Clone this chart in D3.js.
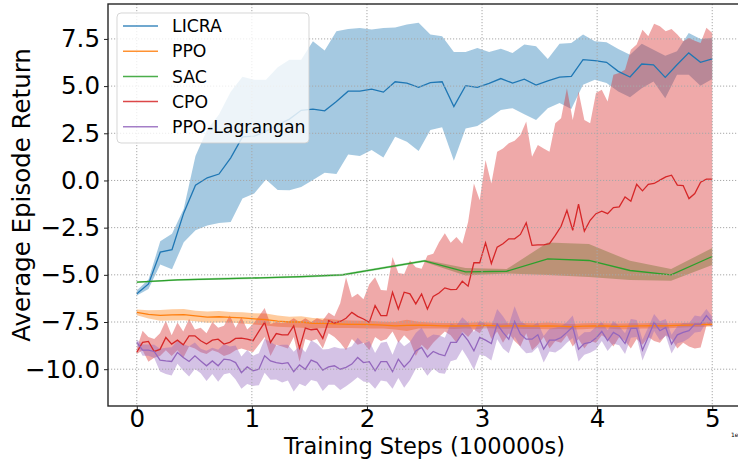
<!DOCTYPE html>
<html>
<head>
<meta charset="utf-8">
<script src="https://cdn.jsdelivr.net/npm/d3@7"></script>
<style>
  body { margin: 0; background: #fff; }
  text { font-family: "DejaVu Sans", sans-serif; fill: #000; }
</style>
</head>
<body>
<div id="chart"></div>
<script>
// ---- data ----
var seriesNames = ["LICRA", "PPO", "SAC", "CPO", "PPO-Lagrangan"];
var seriesColors = ["#1f77b4", "#ff7f0e", "#2ca02c", "#d62728", "#9467bd"];
var xTicks = [0, 1, 2, 3, 4, 5];
var yTicks = [-10, -7.5, -5, -2.5, 0, 2.5, 5, 7.5];

// LICRA: 50 evaluations
var licraMean = [-6.0, -5.48, -3.80, -3.67, -1.72, -0.25, 0.14, 0.34, 1.2, 2.31,
    2.35, 2.6, 2.95, 3.25, 3.72, 3.78, 3.69, 4.18, 4.73, 4.73,
    4.84, 4.68, 5.23, 5.16, 4.93, 5.18, 5.23, 3.92, 5.02, 4.93,
    5.14, 5.40, 5.16, 5.37, 5.05, 5.28, 5.48, 5.51, 6.40, 6.35,
    6.26, 5.78, 5.48, 6.17, 6.13, 5.46, 6.13, 6.76, 6.26, 6.44];
var licraUpper = [-5.83, -5.25, -3.22, -2.82, -1.5, 1.3, 2.7, 3.5, 4.7, 5.5,
    5.34, 5.34, 6.0, 6.4, 6.4, 7.37, 6.88, 7.90, 8.03, 8.08,
    8.0, 8.08, 8.1, 8.26, 8.35, 7.73, 7.64, 6.81, 6.81, 7.02,
    6.81, 6.98, 6.75, 7.2, 7.11, 6.44, 7.25, 7.29, 7.73, 7.37,
    7.32, 6.97, 6.66, 7.25, 6.93, 6.61, 6.84, 7.82, 7.50, 7.55];
var licraLower = [-6.1, -5.75, -4.45, -4.7, -3.27, -2.64, -2.38, -2.25, -2.2, -0.96,
    -0.69, 0.05, -0.5, -0.52, -0.34, 0.02, 0.41, 0.34, 1.38, 1.29,
    1.61, 1.22, 2.32, 2.05, 1.56, 2.68, 2.82, 1.04, 2.76, 2.89,
    3.30, 3.74, 3.83, 3.51, 3.21, 3.83, 4.10, 3.78, 5.07, 5.34,
    5.16, 4.71, 4.41, 4.89, 5.25, 4.36, 5.60, 5.60, 5.02, 5.37];

// PPO: 50 evaluations, mean and half band
var ppoMean = [-6.99, -7.1, -7.15, -7.12, -7.11, -7.18, -7.24, -7.22, -7.25, -7.28,
    -7.33, -7.37, -7.45, -7.5, -7.5, -7.57, -7.57, -7.6, -7.62, -7.63,
    -7.64, -7.66, -7.7, -7.68, -7.66, -7.68, -7.7, -7.71, -7.7, -7.69,
    -7.68, -7.72, -7.7, -7.71, -7.72, -7.7, -7.72, -7.75, -7.72, -7.7,
    -7.71, -7.73, -7.72, -7.7, -7.69, -7.7, -7.68, -7.66, -7.64, -7.62];
var ppoBand = [0.15, 0.22, 0.28, 0.3, 0.3, 0.28, 0.3, 0.3, 0.28, 0.3,
    0.3, 0.32, 0.3, 0.28, 0.3, 0.28, 0.25, 0.22, 0.2, 0.2,
    0.2, 0.18, 0.2, 0.3, 0.18, 0.16, 0.15, 0.16, 0.15, 0.18,
    0.15, 0.14, 0.15, 0.16, 0.15, 0.18, 0.15, 0.14, 0.16, 0.15,
    0.14, 0.15, 0.16, 0.14, 0.15, 0.14, 0.13, 0.12, 0.12, 0.12];

// SAC: 15 evaluations
var sacMean = [-5.39, -5.27, -5.21, -5.16, -5.1, -5.0, -4.63, -4.26, -4.84, -4.81,
    -4.15, -4.24, -4.77, -5.0, -4.03];
var sacBand = [0.04, 0.05, 0.05, 0.05, 0.05, 0.06, 0.06, 0.06, 0.2, 0.12,
    0.86, 0.87, 0.51, 0.31, 0.45];

// CPO: 100 evaluations
var cpoMean = [-9.1, -8.58, -8.53, -9.06, -8.95, -8.32, -8.67, -8.46, -8.71, -8.23,
    -8.23, -8.49, -8.67, -8.46, -8.41, -8.67, -8.58, -8.37, -8.35, -8.41,
    -8.49, -8.0, -7.52, -8.58, -8.11, -8.18, -8.18, -7.70, -8.88, -7.82,
    -7.91, -7.87, -8.37, -7.43, -7.56, -7.47, -7.3, -6.99, -7.2, -7.34,
    -7.52, -6.63, -7.16, -7.16, -5.92, -6.81, -5.92, -6.01, -6.54, -6.01,
    -6.81, -6.14, -5.96, -5.69, -5.78, -5.77, -5.34, -5.6, -4.36, -4.36,
    -3.30, -4.40, -3.53, -3.35, -3.09, -3.09, -2.86, -2.24, -3.44, -3.41,
    -3.41, -3.35, -2.91, -2.43, -1.58, -2.64, -1.26, -2.68, -2.11, -1.76,
    -1.63, -1.76, -1.44, -1.40, -0.87, -1.10, -0.20, -0.55, -0.20, -0.16,
    0.02, 0.19, 0.28, -0.25, -0.27, -0.96, -0.69, -0.09, 0.07, 0.07];
var cpoUpper = [-8.9, -7.96, -8.3, -8.4, -8.1, -7.43, -8.2, -7.52, -8.0, -7.34,
    -7.9, -7.8, -8.1, -7.5, -7.8, -7.7, -7.16, -7.8, -7.25, -7.9,
    -7.6, -7.2, -6.76, -7.6, -7.5, -7.55, -7.5, -7.3, -7.5, -7.3,
    -7.5, -7.3, -7.4, -7.0, -7.2, -6.5, -5.13, -6.2, -6.0, -6.3,
    -5.5, -5.13, -5.8, -5.83, -4.06, -4.9, -4.95, -4.24, -4.6, -4.68,
    -3.97, -3.88, -3.27, -2.8, -3.3, -3.0, -3.35, -2.2, -0.16, -1.05,
    1.08, -0.16, 1.52, 1.70, 1.97, 2.1, 2.41, 3.12, 1.26, 1.88,
    1.7, 1.52, 3.03, 3.3, 4.89, 3.21, 4.71, 3.21, 3.03, 4.63,
    4.80, 4.18, 5.60, 5.69, 5.87, 6.93, 7.2, 7.99, 7.64, 8.3,
    8.17, 7.90, 8.03, 7.73, 7.37, 7.55, 7.4, 7.29, 8.09, 7.82];
var cpoLower = [-9.2, -9.0, -9.6, -9.4, -9.3, -9.0, -9.3, -9.0, -9.4, -8.8,
    -8.9, -9.1, -9.2, -9.0, -9.1, -9.3, -9.2, -9.0, -8.9, -9.0,
    -9.1, -8.7, -8.3, -9.3, -8.7, -8.8, -8.9, -8.3, -9.6, -8.4,
    -8.5, -8.4, -8.9, -8.1, -8.3, -8.6, -9.0, -8.4, -8.7, -8.6,
    -9.0, -8.3, -8.5, -8.4, -8.0, -8.6, -8.2, -8.5, -9.3, -8.7,
    -9.0, -8.6, -8.3, -8.0, -8.2, -8.6, -8.0, -8.3, -7.9, -8.1,
    -7.6, -8.4, -8.0, -8.6, -8.1, -8.5, -8.8, -8.1, -9.0, -8.7,
    -8.3, -8.9, -8.5, -8.6, -8.2, -8.8, -8.4, -8.9, -8.5, -8.6,
    -8.2, -8.4, -8.8, -8.3, -8.5, -8.9, -8.4, -8.7, -8.3, -8.5,
    -8.6, -8.2, -8.4, -8.9, -8.6, -8.8, -8.9, -8.85, -7.7, -7.7];

// PPO-Lagrangan: 100 evaluations, mean and half band
var lagMean = [-8.58, -8.99, -8.99, -9.06, -9.52, -9.56, -9.59, -9.11, -9.38, -9.59,
    -9.29, -9.56, -9.82, -9.56, -9.82, -9.47, -9.50, -9.65, -10.18, -9.88,
    -10.09, -10.0, -9.29, -9.56, -9.65, -9.70, -9.65, -10.13, -9.77, -10.0,
    -9.52, -9.65, -10.05, -9.88, -9.82, -10.0, -9.9, -9.73, -9.38, -9.65,
    -9.6, -10.09, -9.6, -9.6, -10.13, -9.47, -9.88, -9.56, -9.03, -8.85,
    -9.35, -9.06, -9.20, -9.29, -8.58, -8.58, -8.10, -8.49, -9.03, -8.32,
    -8.46, -8.64, -7.61, -8.05, -8.41, -7.47, -8.14, -8.41, -8.41, -8.18,
    -8.94, -8.46, -8.46, -8.32, -8.05, -7.75, -8.94, -8.64, -8.58, -8.35,
    -8.0, -8.49, -8.05, -8.23, -8.64, -7.84, -7.84, -8.99, -8.28, -7.52,
    -7.96, -7.79, -8.67, -8.18, -8.05, -7.96, -7.61, -7.61, -7.16, -7.52];
var lagBand = [0.15, 0.3, 0.3, 0.35, 0.6, 0.7, 0.75, 0.6, 0.7, 0.8,
    0.7, 0.65, 0.8, 0.7, 0.85, 0.8, 0.7, 0.9, 0.85, 0.9,
    0.8, 0.85, 0.9, 1.0, 0.9, 1.0, 0.95, 1.05, 1.0, 0.9,
    1.05, 1.0, 1.1, 0.95, 1.0, 1.1, 1.0, 0.95, 1.05, 1.0,
    1.1, 0.95, 1.0, 1.05, 0.9, 1.0, 1.1, 1.0, 0.95, 1.05,
    1.0, 0.9, 1.0, 0.95, 1.0, 0.9, 0.85, 0.95, 1.0, 0.9,
    0.85, 0.9, 0.8, 0.85, 0.75, 0.8, 0.7, 0.75, 0.7, 0.65,
    0.7, 0.6, 0.65, 0.6, 0.55, 0.6, 0.65, 0.6, 0.55, 0.6,
    0.5, 0.55, 0.6, 0.5, 0.55, 0.5, 0.45, 0.55, 0.5, 0.45,
    0.5, 0.45, 0.5, 0.45, 0.5, 0.4, 0.45, 0.4, 0.35, 0.3];

// ---- layout ----
var width = 738,
    height = 459,
    plotLeft = 108,
    plotTop = 4,
    plotBottom = 406,
    plotRight = 741;

var x = d3.scaleLinear().domain([-0.25, 5.25]).range([plotLeft, plotRight]);
var y = d3.scaleLinear().domain([-11.95, 9.35]).range([plotBottom, plotTop]);

// evenly spaced training steps (in units of 1e5) for a run with n evaluations
function steps(n) {
    return d3.range(n).map(function(i) { return 5 * i / (n - 1); });
}

function bandFromSpread(mean, spread) {
    return mean.map(function(m, i) { return {lo: m - spread[i], hi: m + spread[i]}; });
}
function bandFromBounds(lower, upper) {
    return lower.map(function(l, i) { return {lo: l, hi: upper[i]}; });
}

var series = [
    {mean: licraMean, band: bandFromBounds(licraLower, licraUpper)},
    {mean: ppoMean, band: bandFromSpread(ppoMean, ppoBand)},
    {mean: sacMean, band: bandFromSpread(sacMean, sacBand)},
    {mean: cpoMean, band: bandFromBounds(cpoLower, cpoUpper)},
    {mean: lagMean, band: bandFromSpread(lagMean, lagBand)}
];
series.forEach(function(s, k) {
    s.name = seriesNames[k];
    s.color = seriesColors[k];
    s.x = steps(s.mean.length);
});

var svg = d3.select("#chart").append("svg")
    .attr("width", width)
    .attr("height", height);

svg.append("defs").append("clipPath")
    .attr("id", "plotClip")
    .append("rect")
    .attr("x", plotLeft)
    .attr("y", plotTop)
    .attr("width", plotRight - plotLeft)
    .attr("height", plotBottom - plotTop);

var plot = svg.append("g").attr("clip-path", "url(#plotClip)");

// shaded bands first, in plotting order
series.forEach(function(s) {
    var area = d3.area()
        .x(function(d, i) { return x(s.x[i]); })
        .y0(function(d) { return y(d.lo); })
        .y1(function(d) { return y(d.hi); });
    plot.append("path")
        .datum(s.band)
        .attr("d", area)
        .attr("fill", s.color)
        .attr("fill-opacity", 0.4)
        .attr("stroke", "none");
});

// dotted grid sits above the bands, under the lines
var grid = svg.append("g").attr("class", "grid");
grid.selectAll(".vgrid")
    .data(xTicks)
    .enter().append("line")
    .attr("x1", function(d) { return x(d); })
    .attr("x2", function(d) { return x(d); })
    .attr("y1", plotTop)
    .attr("y2", plotBottom);
grid.selectAll(".hgrid")
    .data(yTicks)
    .enter().append("line")
    .attr("x1", plotLeft)
    .attr("x2", plotRight)
    .attr("y1", function(d) { return y(d); })
    .attr("y2", function(d) { return y(d); });
grid.selectAll("line")
    .attr("stroke", "#a8a8a8")
    .attr("stroke-width", 1)
    .attr("stroke-dasharray", "1.2,1.8");

series.forEach(function(s) {
    var line = d3.line()
        .x(function(d, i) { return x(s.x[i]); })
        .y(function(d) { return y(d); });
    plot.append("path")
        .datum(s.mean)
        .attr("d", line)
        .attr("fill", "none")
        .attr("stroke", s.color)
        .attr("stroke-width", 1.3);
});

// axes
var xAxis = svg.append("g")
    .attr("transform", "translate(0," + plotBottom + ")")
    .call(d3.axisBottom(x).tickValues(xTicks).tickFormat(d3.format("d")).tickSize(4).tickPadding(0));
var yAxis = svg.append("g")
    .attr("transform", "translate(" + plotLeft + ",0)")
    .call(d3.axisLeft(y).tickValues(yTicks).tickFormat(d3.format(".1f")).tickSize(4).tickPadding(4));

[xAxis, yAxis].forEach(function(ax) {
    ax.select(".domain").remove();
    ax.selectAll(".tick line").attr("stroke", "#222").attr("stroke-width", 1);
    ax.selectAll(".tick text")
        .style("font-family", "'DejaVu Sans', sans-serif")
        .style("font-size", "24.5px")
        .attr("fill", "#000");
});

// spines (the right one falls just outside the picture)
svg.append("rect")
    .attr("x", plotLeft)
    .attr("y", plotTop)
    .attr("width", plotRight - plotLeft)
    .attr("height", plotBottom - plotTop)
    .attr("fill", "none")
    .attr("stroke", "#262626")
    .attr("stroke-width", 1.4);

svg.append("text")
    .attr("x", (plotLeft + plotRight) / 2)
    .attr("y", 454)
    .attr("text-anchor", "middle")
    .style("font-size", "22.5px")
    .text("Training Steps (100000s)");

svg.append("text")
    .attr("transform", "translate(30,195) rotate(-90)")
    .attr("text-anchor", "middle")
    .style("font-size", "24.5px")
    .text("Average Episode Return");

// scale offset text at the lower right corner
svg.append("text")
    .attr("x", 731)
    .attr("y", 437)
    .style("font-size", "6px")
    .text("1e");

// legend
var legend = svg.append("g").attr("transform", "translate(117,13)");
legend.append("rect")
    .attr("width", 192)
    .attr("height", 130)
    .attr("rx", 4)
    .attr("fill", "#fff")
    .attr("fill-opacity", 0.8)
    .attr("stroke", "#cccccc")
    .attr("stroke-opacity", 0.8);

var rows = legend.selectAll(".legendRow")
    .data(series)
    .enter().append("g")
    .attr("class", "legendRow")
    .attr("transform", function(d, i) { return "translate(0," + (13 + i * 25.2) + ")"; });
rows.append("line")
    .attr("x1", 6)
    .attr("x2", 41)
    .attr("stroke", function(d) { return d.color; })
    .attr("stroke-width", 1.5)
    .attr("stroke-opacity", 0.85);
rows.append("text")
    .attr("x", 55)
    .attr("dy", "0.36em")
    .style("font-size", "17.3px")
    .text(function(d) { return d.name; });
</script>
</body>
</html>
